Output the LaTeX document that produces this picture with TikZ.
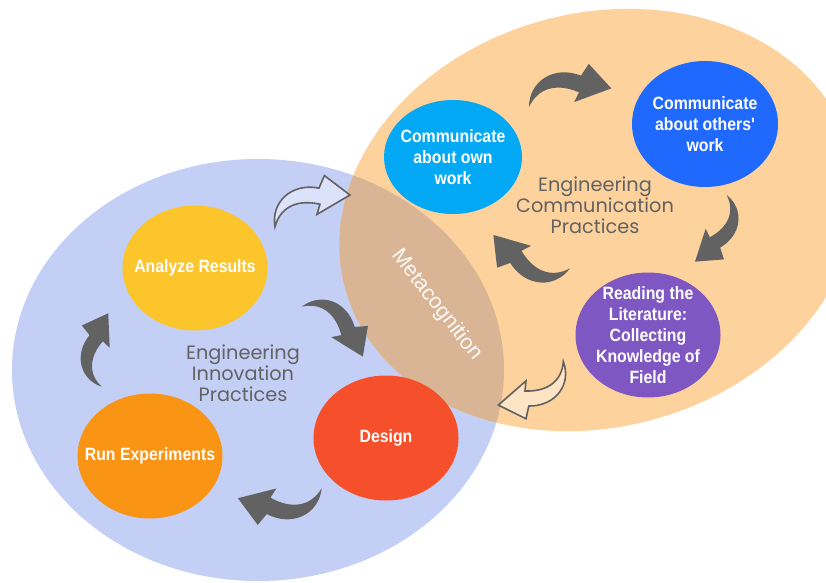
\documentclass[tikz,border=0pt]{standalone}
\usepackage{fontspec}
\setmainfont{Liberation Sans}
\newfontfamily\bubblefont[FakeStretch=0.89]{Liberation Sans}
\newfontfamily\practicefont{Poppins}
\usetikzlibrary{shapes.geometric}
\definecolor{innovbg}{HTML}{C4CFF5}
\definecolor{communbg}{HTML}{FDD29D}
\definecolor{metabg}{HTML}{D9B596}
\definecolor{arrowgray}{HTML}{626262}
\definecolor{owncol}{HTML}{03A9F4}
\definecolor{otherscol}{HTML}{2069FE}
\definecolor{readcol}{HTML}{7E57C2}
\definecolor{analyzecol}{HTML}{FCC52B}
\definecolor{designcol}{HTML}{F5502B}
\definecolor{runcol}{HTML}{FA9414}
\tikzset{
  bubble/.style={
    shape = ellipse,
    inner sep = -14pt,
    minimum width = 145pt,
    minimum height = 125pt,
    align = center,
    text = white,
    font = \bubblefont\bfseries\fontsize{17.8}{21}\selectfont
  },
  practice/.style={
    align = center,
    text = arrowgray,
    font = \practicefont\fontsize{19.3}{21}\selectfont
  },
  solidarrow/.style={
    fill = arrowgray
  },
  hollowarrow/.style={
    draw = arrowgray,
    line width = 1.6pt,
    fill = white,
    fill opacity = 0.4
  },
  pics/bentarrow/.style={
    code={
      \path[pic actions] (0,0) .. controls (0,26) and (25,43) .. (53,32)
        -- (61,44) -- (84,19) -- (46,5) -- (51,15)
        .. controls (30,24) and (10,21) .. (0,0) -- cycle;
    }
  }
}
\begin{document}
\begin{tikzpicture}[x=1pt, y=1pt]
    \useasboundingbox (0,0) rectangle (826,582);
    \fill[white] (0,0) rectangle (826,582);
    % the two fields and their overlap
    \fill[innovbg] (258,212) ellipse [x radius=246, y radius=211];
    \fill[communbg, rotate around={15:(598,362)}] (598,362) ellipse [x radius=262, y radius=207];
    \begin{scope}
        \clip[rotate around={15:(598,362)}] (598,362) ellipse [x radius=262, y radius=207];
        \fill[metabg] (258,212) ellipse [x radius=246, y radius=211];
    \end{scope}
    \node[text=white, text opacity=0.92, rotate=-52.4, font=\fontsize{21.5}{24}\selectfont] (meta) at (437,277) {Metacognition};

    \node[bubble, fill=owncol, minimum width=138pt, minimum height=114pt] (own) at (453,425) {Communicate\\about own\\work};
    \node[bubble, fill=otherscol, minimum width=146pt, minimum height=126pt] (others) at (705,458) {Communicate\\about others'\\work};
    \node[bubble, fill=readcol] (reading) at (648,247) {Reading the\\Literature:\\Collecting\\Knowledge of\\Field};
    \node[bubble, fill=analyzecol] (analyze) at (195,314) {Analyze Results};
    \node[bubble, fill=designcol] (design) at (386,144) {Design};
    \node[bubble, fill=runcol] (run) at (150,126) {Run Experiments};

    \node[practice] (innov) at (243,209) {Engineering\\Innovation\\Practices};
    \node[practice] (commun) at (595,377) {Engineering\\Communication\\Practices};

    % cycle arrows
    \pic[solidarrow, scale=0.98] at (529,475) {bentarrow};
    \pic[solidarrow, rotate=-128.2, scale=0.857] at (726.7,387) {bentarrow};
    \pic[solidarrow, rotate=143.75, scale=0.97] at (570,313.7) {bentarrow};
    \pic[solidarrow, rotate=-52, scale=0.917] at (301.7,275.3) {bentarrow};
    \pic[solidarrow, rotate=174, scale=0.98] at (321.7,93.7) {bentarrow};
    \pic[solidarrow, rotate=72.15, scale=0.856] at (101.7,195.3) {bentarrow};
    \pic[hollowarrow, rotate=10.15, scale=0.945] at (275,355.3) {bentarrow};
    \pic[hollowarrow, rotate=201, scale=0.907] at (563.3,220.3) {bentarrow};
\end{tikzpicture}
\end{document}
